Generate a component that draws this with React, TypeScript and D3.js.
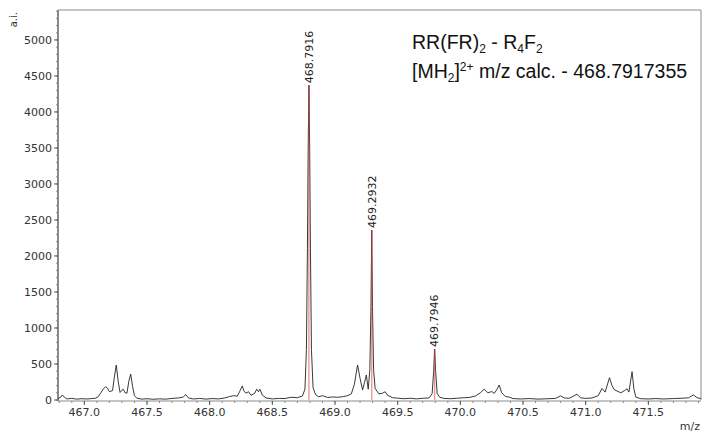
import React from 'react';
import { scaleLinear, line, range } from 'd3';

// profile points: [m/z, intensity]
const spectrum: [number, number][] = [
  [466.79, 20], [466.81, 35], [466.825, 70], [466.84, 40], [466.86, 15], [466.9, 22], [466.94, 12],
  [466.98, 18], [467.02, 14], [467.06, 20], [467.09, 25], [467.11, 45], [467.13, 95], [467.15, 150],
  [467.17, 185], [467.185, 165], [467.2, 115], [467.225, 130], [467.24, 320], [467.255, 486],
  [467.27, 260], [467.285, 105], [467.3, 135], [467.31, 150], [467.325, 100], [467.34, 95],
  [467.355, 260], [467.37, 360], [467.385, 190], [467.4, 60], [467.42, 25], [467.46, 12],
  [467.5, 18], [467.55, 10], [467.6, 16], [467.65, 12], [467.7, 22], [467.75, 28], [467.79, 42],
  [467.81, 75], [467.83, 30], [467.87, 14], [467.92, 22], [467.97, 12], [468.02, 20], [468.07, 15],
  [468.12, 28], [468.16, 48], [468.19, 60], [468.22, 52], [468.24, 120], [468.26, 195],
  [468.275, 120], [468.29, 95], [468.31, 115], [468.33, 65], [468.36, 95], [468.375, 150],
  [468.39, 115], [468.4, 150], [468.42, 70], [468.45, 28], [468.5, 15], [468.55, 22], [468.6, 20],
  [468.65, 38], [468.7, 32], [468.74, 55], [468.76, 150], [468.772, 700], [468.78, 2100],
  [468.786, 3500], [468.792, 4370], [468.798, 3500], [468.804, 2100], [468.812, 700],
  [468.825, 170], [468.845, 75], [468.87, 45], [468.9, 60], [468.94, 35], [468.98, 42],
  [469.02, 38], [469.06, 45], [469.1, 60], [469.13, 85], [469.155, 220], [469.18, 486],
  [469.2, 300], [469.22, 140], [469.235, 240], [469.25, 347], [469.265, 150], [469.278, 420],
  [469.287, 1300], [469.293, 2360], [469.299, 1300], [469.308, 420], [469.32, 160],
  [469.35, 85], [469.38, 95], [469.4, 115], [469.42, 65], [469.46, 32], [469.5, 25], [469.55, 18],
  [469.6, 24], [469.65, 16], [469.7, 24], [469.75, 28], [469.775, 90], [469.787, 400],
  [469.795, 708], [469.803, 400], [469.815, 90], [469.835, 38], [469.87, 22], [469.92, 18],
  [469.97, 24], [470.02, 30], [470.07, 35], [470.12, 55], [470.16, 100], [470.19, 150],
  [470.22, 100], [470.25, 118], [470.27, 92], [470.29, 140], [470.31, 208], [470.33, 100],
  [470.36, 48], [470.39, 40], [470.42, 20], [470.48, 14], [470.55, 20], [470.62, 12],
  [470.7, 18], [470.76, 22], [470.8, 58], [470.83, 28], [470.87, 24], [470.93, 80], [470.96, 30],
  [471.0, 22], [471.05, 28], [471.1, 60], [471.13, 160], [471.155, 110], [471.19, 310],
  [471.21, 200], [471.23, 140], [471.25, 125], [471.28, 100], [471.31, 130], [471.33, 155],
  [471.345, 110], [471.37, 393], [471.385, 150], [471.4, 40], [471.44, 18], [471.5, 14],
  [471.56, 20], [471.62, 14], [471.7, 20], [471.76, 24], [471.82, 30], [471.86, 70],
  [471.89, 30], [471.92, 20],
];

const peakMz = [468.7916, 469.2932, 469.7946];
const peakIntensity = [4370, 2360, 708];
const peakLabels = ['468.7916', '469.2932', '469.7946'];

const yTicks = [0, 500, 1000, 1500, 2000, 2500, 3000, 3500, 4000, 4500, 5000];
const xTicks = [467.0, 467.5, 468.0, 468.5, 469.0, 469.5, 470.0, 470.5, 471.0, 471.5];

const W = 703;
const H = 434;
const left = 58;
const right = 701;
const top = 10;
const bottom = 400;

export default function App() {
  const x = scaleLinear().domain([466.79, 471.92]).range([left, right]);
  const y = scaleLinear().domain([0, 5416]).range([bottom, top]);

  const path = line<[number, number]>()
    .x(d => x(d[0]))
    .y(d => y(d[1]))(spectrum);

  const minorY = range(0, 5401, 100);
  const minorX = range(4668, 4720).map(v => v / 10).filter(v => v >= 466.79 && v <= 471.92);

  const tickFont = { fontFamily: 'DejaVu Sans', fontSize: 11, fill: '#333' };
  const axisColor = '#8a8a8a';

  return (
    <svg width={W} height={H} style={{ position: 'absolute', left: 0, top: 0, background: '#fff' }}>
      {/* frame */}
      <line x1={left} x2={right} y1={top} y2={top} stroke={axisColor} strokeWidth={1} />
      <line x1={right} x2={right} y1={top} y2={bottom} stroke={axisColor} strokeWidth={1} />

      {/* y axis */}
      <line x1={left} x2={left} y1={top} y2={bottom + 1} stroke={axisColor} strokeWidth={2} />
      {minorY.map(v => (
        <line key={'my' + v} x1={left - 2} x2={left} y1={y(v)} y2={y(v)} stroke={axisColor} strokeWidth={1} />
      ))}
      {yTicks.map(v => (
        <g key={'y' + v}>
          <line x1={left - 4} x2={left} y1={y(v)} y2={y(v)} stroke="#555" strokeWidth={1} />
          <text x={left - 6} y={y(v)} dy="0.35em" textAnchor="end" {...tickFont}>{v}</text>
        </g>
      ))}
      <text transform={`translate(17,12) rotate(-90)`} textAnchor="end" fontFamily="DejaVu Sans" fontSize={10} fill="#333">a.i.</text>

      {/* x axis */}
      <line x1={left} x2={right} y1={bottom + 1} y2={bottom + 1} stroke={axisColor} strokeWidth={1} />
      {minorX.map(v => (
        <line key={'mx' + v} x1={x(v)} x2={x(v)} y1={bottom + 1} y2={bottom + 3} stroke={axisColor} strokeWidth={1} />
      ))}
      {xTicks.map(v => (
        <g key={'x' + v}>
          <line x1={x(v)} x2={x(v)} y1={bottom + 1} y2={bottom + 5} stroke="#555" strokeWidth={1} />
          <text x={x(v)} y={bottom + 16} textAnchor="middle" {...tickFont}>{v.toFixed(1)}</text>
        </g>
      ))}
      <text x={right - 1} y={430} textAnchor="end" fontFamily="DejaVu Sans" fontSize={11} fill="#333">m/z</text>

      {/* spectrum */}
      <path d={path ?? ''} fill="none" stroke="#222" strokeWidth={0.9} />

      {/* centroid lines and labels */}
      {peakMz.map((m, i) => (
        <g key={'p' + i}>
          <line x1={x(m)} x2={x(m)} y1={y(0)} y2={y(peakIntensity[i])} stroke="#e0404a" strokeOpacity={0.55} strokeWidth={1.4} />
          <text
            transform={`translate(${x(m)},${y(peakIntensity[i]) - 2}) rotate(-90)`}
            dy="0.35em"
            textAnchor="start"
            fontFamily="DejaVu Sans"
            fontSize={11}
            fill="#222"
          >
            {peakLabels[i]}
          </text>
        </g>
      ))}

      {/* annotation */}
      <text x={412} y={49} fontFamily="Liberation Sans" fontSize={19.5} fill="#111">
        RR(FR)<tspan fontSize={12} dy={4}>2</tspan>
        <tspan dy={-4}> - R</tspan><tspan fontSize={12} dy={4}>4</tspan>
        <tspan dy={-4}>F</tspan><tspan fontSize={12} dy={4}>2</tspan>
      </text>
      <text x={412} y={78} fontFamily="Liberation Sans" fontSize={19.5} fill="#111">
        [MH<tspan fontSize={12} dy={4}>2</tspan>
        <tspan dy={-4}>]</tspan><tspan fontSize={12} dy={-7}>2+</tspan>
        <tspan dy={7}> m/z calc. - 468.7917355</tspan>
      </text>
    </svg>
  );
}
